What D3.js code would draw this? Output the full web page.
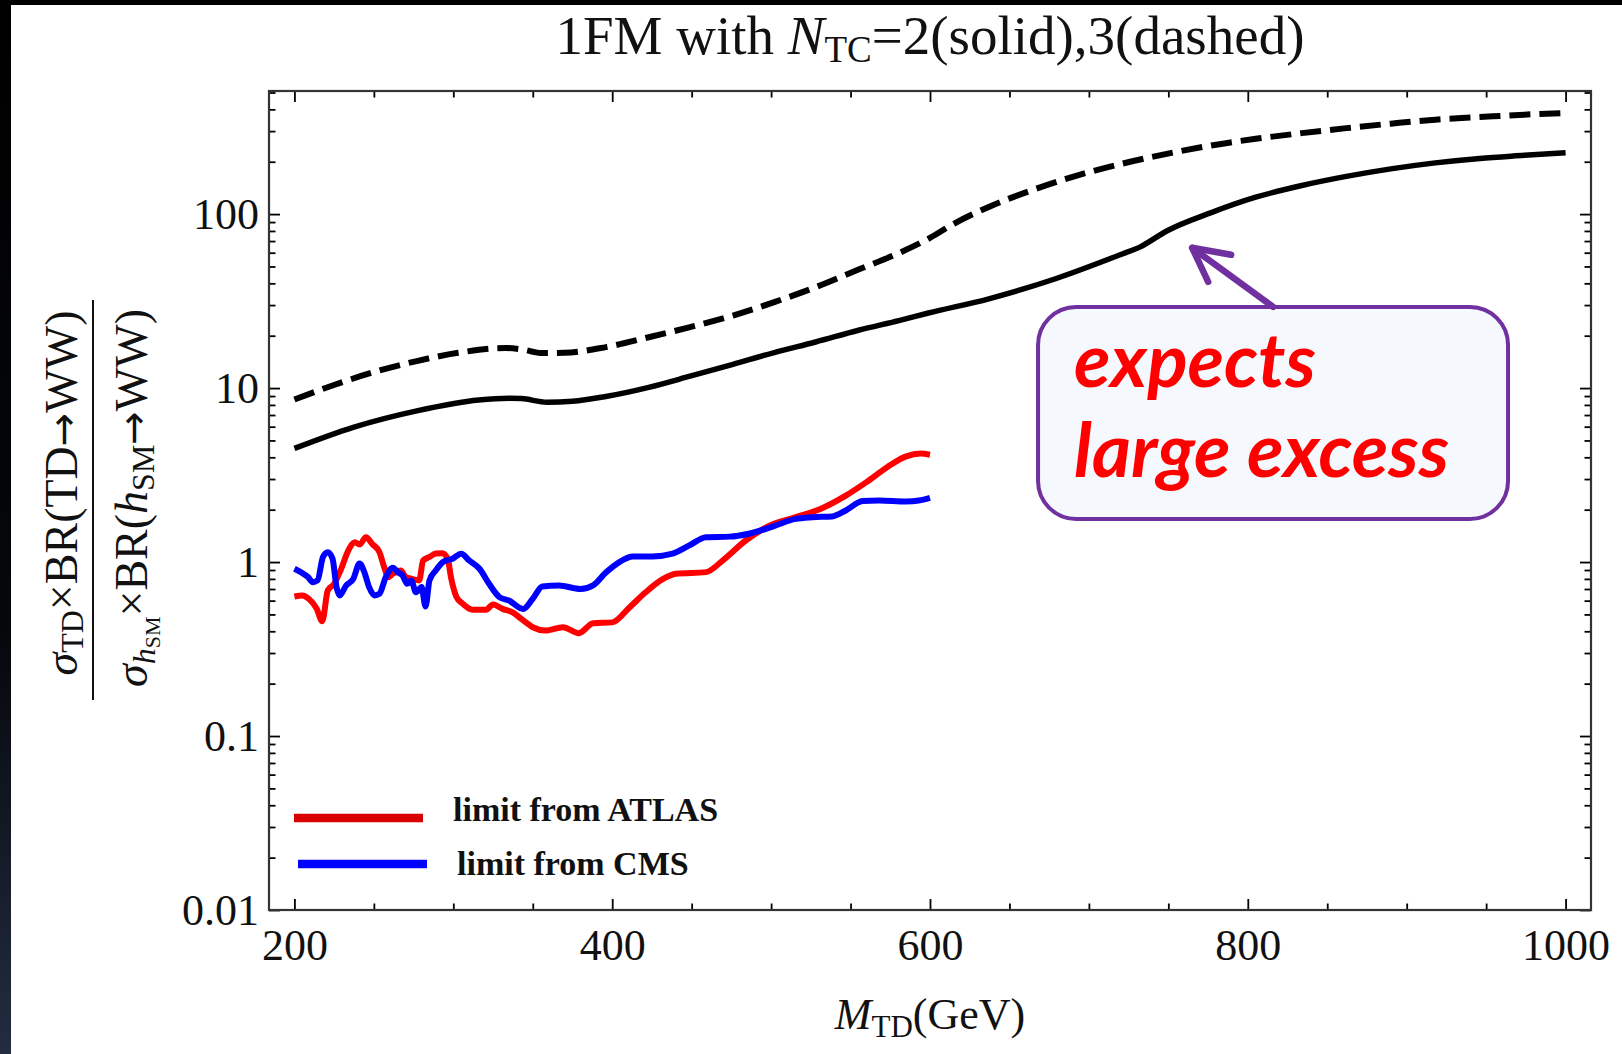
<!DOCTYPE html>
<html>
<head>
<meta charset="utf-8">
<script src="https://cdn.jsdelivr.net/npm/d3@7/dist/d3.min.js"></script>
<style>
  body { margin: 0; background: #fff; }
  svg { display: block; }
  .serif { font-family: "Liberation Serif", "Times New Roman", "DejaVu Serif", serif; }
  .note { font-family: Lato, "Open Sans", "Noto Sans", sans-serif; }
</style>
</head>
<body>
<div class="chart"></div>
<script>
// N_TC = 2 (solid)
const solidMass = [200, 237, 277, 316, 335, 343, 359, 375, 396, 423, 449, 476, 502, 528, 555, 581, 599, 637, 679, 721, 732, 749, 777, 805, 834, 862, 890, 918, 946, 974, 1000];
const solidRatio = [4.5, 5.95, 7.4, 8.55, 8.75, 8.7, 8.3, 8.4, 8.95, 10.1, 11.7, 13.7, 16.0, 18.4, 21.5, 24.5, 27, 32.6, 42.5, 59, 64.6, 80, 102, 125, 146, 164.7, 182, 197, 209, 217.6, 225.5];

// N_TC = 3 (dashed)
const dashedMass = [200, 224, 250, 277, 303, 333, 343, 356, 370, 396, 423, 449, 476, 502, 528, 555, 581, 600, 615, 637, 665, 693, 721, 749, 777, 805, 834, 862, 890, 918, 946, 974, 1000];
const dashedRatio = [8.6, 10.35, 12.35, 14.3, 15.95, 17.0, 16.7, 15.9, 15.95, 17.2, 19.6, 22.4, 26.1, 31.2, 38, 48, 60, 73, 88, 110, 138, 167, 195, 222, 248, 271, 292, 312, 331, 349, 361, 373, 381];

// limit from ATLAS
const atlasMass = [200, 205, 209, 214, 217.5, 221, 225, 229, 234, 238, 241, 245, 249, 253.5, 256.5, 259, 262, 267, 270, 274, 278.5, 281, 285, 289, 293, 296.5, 298.5, 302, 306, 312, 320.5, 325, 331, 337, 344, 350, 358, 369, 379, 388, 400, 411, 421, 432, 440, 459, 469.5, 484, 499, 515.5, 531, 547, 560, 573, 585, 594, 600];
const atlasLimit = [0.634, 0.643, 0.615, 0.54, 0.457, 0.687, 0.75, 0.895, 1.17, 1.30, 1.26, 1.39, 1.27, 1.14, 0.935, 0.82, 0.857, 0.895, 0.82, 0.80, 0.784, 1.02, 1.07, 1.12, 1.125, 1.045, 0.82, 0.63, 0.575, 0.532, 0.532, 0.57, 0.538, 0.515, 0.462, 0.422, 0.404, 0.422, 0.39, 0.445, 0.45, 0.55, 0.67, 0.80, 0.857, 0.875, 1.02, 1.33, 1.62, 1.81, 2.02, 2.41, 2.88, 3.51, 4.05, 4.2, 4.14];

// limit from CMS
const cmsMass = [200, 204, 208.5, 211.5, 214.5, 218, 221, 224, 226.5, 228.5, 232.5, 237, 241, 244, 247, 250.5, 253.5, 257.5, 262, 265, 268, 271, 273.5, 276.5, 280, 282.5, 285, 289, 293.5, 299.5, 305, 310, 316.5, 322.5, 329, 335, 344, 350, 356, 366.5, 380, 388, 396, 404.5, 413, 425.5, 438, 448.5, 459, 474, 486, 501, 515.5, 526, 538.5, 547, 557.5, 568, 585, 593, 600];
const cmsLimit = [0.915, 0.875, 0.82, 0.766, 0.784, 1.07, 1.14, 1.045, 0.718, 0.643, 0.733, 0.80, 0.98, 0.875, 0.718, 0.643, 0.657, 0.82, 0.927, 0.875, 0.838, 0.75, 0.784, 0.671, 0.718, 0.556, 0.784, 0.895, 1.0, 1.045, 1.117, 1.02, 0.915, 0.75, 0.629, 0.601, 0.538, 0.615, 0.724, 0.733, 0.70, 0.735, 0.87, 1.0, 1.077, 1.077, 1.117, 1.246, 1.39, 1.40, 1.455, 1.60, 1.77, 1.81, 1.83, 1.98, 2.24, 2.26, 2.23, 2.26, 2.34];

// ticks
const xMajorTicks = [200, 400, 600, 800, 1000];
const xMinorTicks = [250, 300, 350, 450, 500, 550, 650, 700, 750, 850, 900, 950];
const yMajorTicks = [0.01, 0.1, 1, 10, 100];
const yTickLabels = ["0.01", "0.1", "1", "10", "100"];
const yMinorTicks = [0.02, 0.03, 0.04, 0.05, 0.06, 0.07, 0.08, 0.09,
                     0.2, 0.3, 0.4, 0.5, 0.6, 0.7, 0.8, 0.9,
                     2, 3, 4, 5, 6, 7, 8, 9,
                     20, 30, 40, 50, 60, 70, 80, 90,
                     200, 300, 400, 500];

const legendNames = ["limit from ATLAS", "limit from CMS"];

const draw = () => {
    const W = 1622, H = 1054;
    const frame = {left: 269, right: 1591, top: 91, bottom: 910};

    let svg = d3.select('.chart')
                .append('svg')
                .attr('width', W)
                .attr('height', H);

    // slide background: black top bar, dark strip on the left
    let grad = svg.append('defs').append('linearGradient')
                .attr('id', 'strip')
                .attr('x1', 0).attr('y1', 0).attr('x2', 0).attr('y2', 1);
    grad.append('stop').attr('offset', 0).attr('stop-color', '#000');
    grad.append('stop').attr('offset', 0.6).attr('stop-color', '#05070b');
    grad.append('stop').attr('offset', 1).attr('stop-color', '#232c40');

    svg.append('rect').attr('width', W).attr('height', H).attr('fill', '#fff');
    svg.append('rect').attr('width', 11).attr('height', H).attr('fill', 'url(#strip)');
    svg.append('rect').attr('width', W).attr('height', 5).attr('fill', '#000');

    // scales, padded like the original plot range
    let xScale = d3.scaleLinear()
            .domain([184, 1016])
            .range([frame.left, frame.right]);
    let yScale = d3.scaleLog()
            .domain([0.01, 510])
            .range([frame.bottom, frame.top]);

    const labelFont = 44;

    // major + minor ticks on all four sides, pointing inward
    const addAxis = (axis, tx, ty, labels) => {
        let g = svg.append('g')
            .attr('class', 'serif')
            .attr('transform', 'translate(' + tx + ',' + ty + ')')
            .call(axis);
        g.select('.domain').remove();
        g.selectAll('line').attr('stroke', '#000').attr('stroke-width', 1.8);
        g.selectAll('text')
            .attr('font-size', labelFont)
            .attr('fill', '#111')
            .attr('font-family', '"Liberation Serif", "Times New Roman", serif');
        if (!labels) g.selectAll('text').remove();
        return g;
    };

    addAxis(d3.axisBottom(xScale).tickValues(xMajorTicks).tickSize(-11).tickPadding(19)
            .tickFormat(d3.format('d')), 0, frame.bottom, true);
    addAxis(d3.axisBottom(xScale).tickValues(xMinorTicks).tickSize(-6.5), 0, frame.bottom, false);
    addAxis(d3.axisTop(xScale).tickValues(xMajorTicks).tickSize(-11), 0, frame.top, false);
    addAxis(d3.axisTop(xScale).tickValues(xMinorTicks).tickSize(-6.5), 0, frame.top, false);

    addAxis(d3.axisLeft(yScale).tickValues(yMajorTicks).tickSize(-11).tickPadding(10)
            .tickFormat((d, i) => yTickLabels[i]), frame.left, 0, true);
    addAxis(d3.axisLeft(yScale).tickValues(yMinorTicks).tickSize(-6.5), frame.left, 0, false);
    addAxis(d3.axisRight(yScale).tickValues(yMajorTicks).tickSize(-11), frame.right, 0, false);
    addAxis(d3.axisRight(yScale).tickValues(yMinorTicks).tickSize(-6.5), frame.right, 0, false);

    svg.append('rect')
        .attr('x', frame.left).attr('y', frame.top)
        .attr('width', frame.right - frame.left)
        .attr('height', frame.bottom - frame.top)
        .attr('fill', 'none')
        .attr('stroke', '#333')
        .attr('stroke-width', 2.2);

    // curves
    const line = d3.line()
        .x(d => xScale(d[0]))
        .y(d => yScale(d[1]))
        .curve(d3.curveMonotoneX);

    const series = [
        {m: atlasMass, v: atlasLimit, color: '#ff0000', width: 6, dash: null},
        {m: cmsMass, v: cmsLimit, color: '#0000ff', width: 6, dash: null},
        {m: dashedMass, v: dashedRatio, color: '#000', width: 6, dash: '21,9'},
        {m: solidMass, v: solidRatio, color: '#000', width: 5.5, dash: null}
    ];

    svg.append('clipPath').attr('id', 'plot')
        .append('rect')
        .attr('x', frame.left).attr('y', frame.top)
        .attr('width', frame.right - frame.left)
        .attr('height', frame.bottom - frame.top);

    svg.append('g')
        .attr('clip-path', 'url(#plot)')
        .selectAll('path')
        .data(series)
        .enter()
        .append('path')
        .attr('d', s => line(d3.zip(s.m, s.v)))
        .attr('fill', 'none')
        .attr('stroke', s => s.color)
        .attr('stroke-width', s => s.width)
        .attr('stroke-linejoin', 'round')
        .attr('stroke-linecap', 'butt')
        .attr('stroke-dasharray', s => s.dash);

    // legend
    const legendColors = ['#d80000', '#0000ff'];
    let legend = svg.append('g').attr('class', 'serif');
    legendNames.forEach((name, i) => {
        const ly = [818, 864][i];
        const lx = [294, 298][i];
        legend.append('line')
            .attr('x1', lx).attr('x2', lx + 129)
            .attr('y1', ly).attr('y2', ly)
            .attr('stroke', legendColors[i])
            .attr('stroke-width', 8.5);
        legend.append('text')
            .attr('x', lx + 159)
            .attr('y', [821, 875][i])
            .attr('font-size', 34)
            .attr('font-weight', 'bold')
            .attr('fill', '#111')
            .text(name);
    });

    // title
    let title = svg.append('text')
        .attr('class', 'serif')
        .attr('x', 930)
        .attr('y', 54)
        .attr('text-anchor', 'middle')
        .attr('font-size', 55)
        .attr('fill', '#111');
    title.append('tspan').text('1FM with ');
    title.append('tspan').attr('font-style', 'italic').text('N');
    title.append('tspan').attr('font-size', 37).attr('dy', 8).text('TC');
    title.append('tspan').attr('dy', -8).text('=2(solid),3(dashed)');

    // x axis title
    let xTitle = svg.append('text')
        .attr('class', 'serif')
        .attr('x', 930)
        .attr('y', 1029)
        .attr('text-anchor', 'middle')
        .attr('font-size', 44)
        .attr('fill', '#111');
    xTitle.append('tspan').attr('font-style', 'italic').text('M');
    xTitle.append('tspan').attr('font-size', 31).attr('dy', 8).text('TD');
    xTitle.append('tspan').attr('dy', -8).text('(GeV)');

    // y axis title, a rotated fraction
    const arrowFont = '"DejaVu Sans", sans-serif';
    let yTitle = svg.append('g')
        .attr('class', 'serif')
        .attr('transform', 'translate(93,500) rotate(-90)')
        .attr('fill', '#111');
    yTitle.append('line')
        .attr('x1', -200).attr('x2', 200)
        .attr('y1', 0).attr('y2', 0)
        .attr('stroke', '#111').attr('stroke-width', 2);

    let num = yTitle.append('text')
        .attr('x', 7).attr('y', -16)
        .attr('text-anchor', 'middle')
        .attr('font-size', 46);
    num.append('tspan').attr('font-style', 'italic').text('σ');
    num.append('tspan').attr('font-size', 32).attr('dy', 6).text('TD');
    num.append('tspan').attr('dy', -6).text('×BR(TD');
    num.append('tspan').attr('font-family', arrowFont).attr('font-size', 40).text('→');
    num.append('tspan').text('WW)');

    let den = yTitle.append('text')
        .attr('x', 2).attr('y', 54)
        .attr('text-anchor', 'middle')
        .attr('font-size', 46);
    den.append('tspan').attr('font-style', 'italic').text('σ');
    den.append('tspan').attr('font-size', 32).attr('font-style', 'italic').attr('dy', 8).text('h');
    den.append('tspan').attr('font-size', 22).attr('dy', 5).text('SM');
    den.append('tspan').attr('dy', -13).text('×BR(');
    den.append('tspan').attr('font-style', 'italic').text('h');
    den.append('tspan').attr('font-size', 32).attr('dy', 7).text('SM');
    den.append('tspan').attr('dy', -7).attr('font-family', arrowFont).attr('font-size', 40).text('→');
    den.append('tspan').text('WW)');

    // callout box and arrow pointing at the solid curve
    const purple = '#7030a0';
    const tip = [xScale(765), yScale(64)];
    const box = {x: xScale(668), y: 307, w: 470, h: 212};

    svg.append('rect')
        .attr('x', box.x).attr('y', box.y)
        .attr('width', box.w).attr('height', box.h)
        .attr('rx', 38).attr('ry', 38)
        .attr('fill', '#f5f8fd')
        .attr('stroke', purple)
        .attr('stroke-width', 4);

    svg.append('path')
        .attr('d', 'M' + (tip[0] + 81) + ',' + (tip[1] + 59) + 'L' + tip[0] + ',' + tip[1])
        .attr('stroke', purple)
        .attr('stroke-width', 6.5)
        .attr('stroke-linecap', 'round');
    svg.append('path')
        .attr('d', 'M' + (tip[0] + 39) + ',' + (tip[1] + 7) + 'L' + tip[0] + ',' + tip[1] +
                   'L' + (tip[0] + 16) + ',' + (tip[1] + 34))
        .attr('fill', 'none')
        .attr('stroke', purple)
        .attr('stroke-width', 6.5)
        .attr('stroke-linecap', 'round')
        .attr('stroke-linejoin', 'round');

    let note = svg.append('text')
        .attr('class', 'note')
        .attr('font-size', 75)
        .attr('font-weight', 'bold')
        .attr('font-style', 'italic')
        .attr('fill', '#ff0000');
    note.append('tspan').attr('x', box.x + 36).attr('y', 387).text('expects');
    note.append('tspan').attr('x', box.x + 36).attr('y', 477).text('large excess');
};

draw();
</script>
</body>
</html>
